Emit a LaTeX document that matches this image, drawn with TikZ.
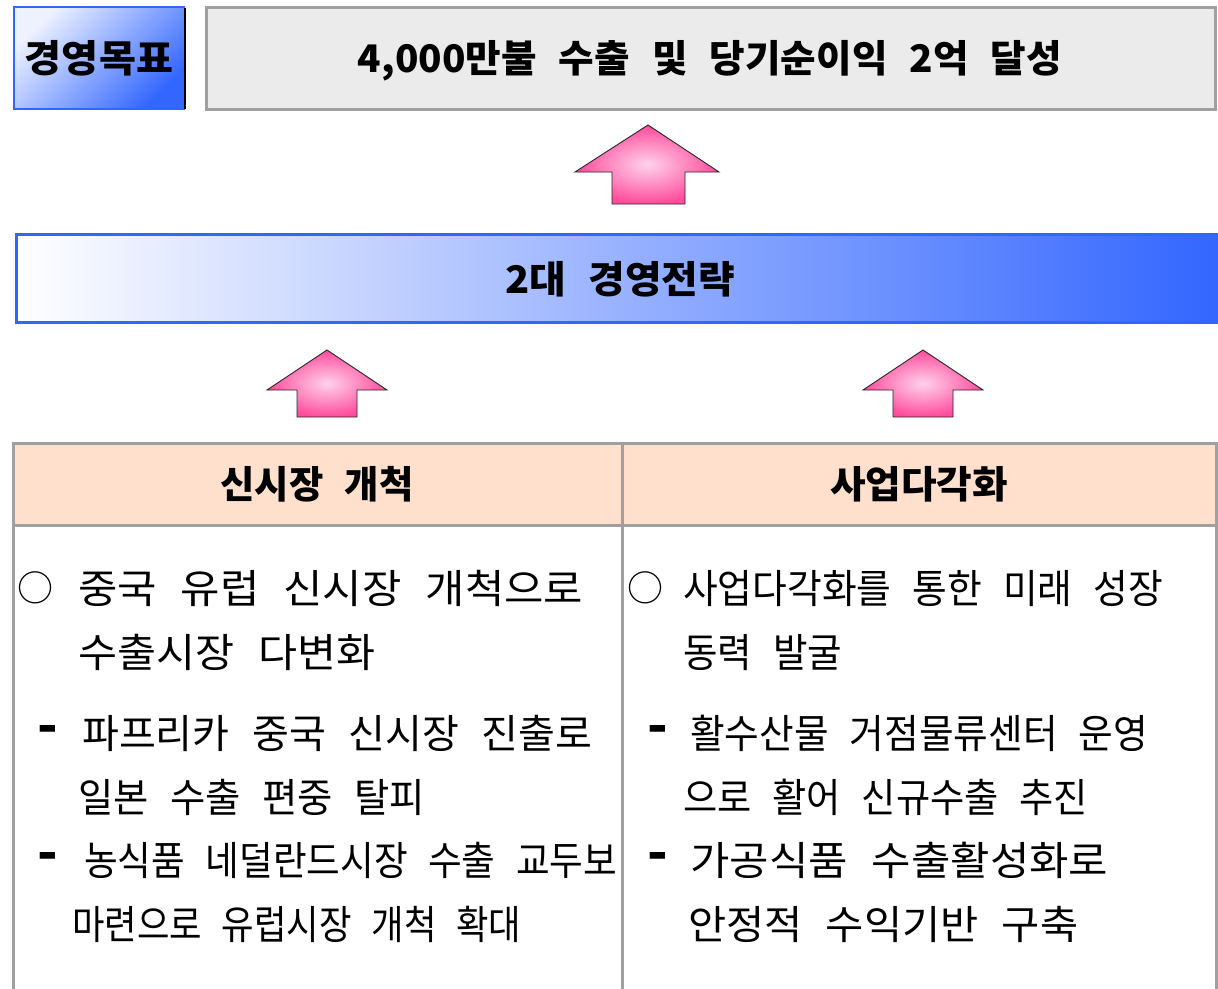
\documentclass[tikz,border=0pt]{standalone}
\usepackage{fontspec}
\usepackage{graphicx}
\newfontfamily\kr[WordSpace=2.5]{Noto Sans CJK KR}
\definecolor{bblue}{HTML}{3366FF}
\definecolor{bpale}{HTML}{EEF2FF}
\definecolor{gbox}{HTML}{EBEBEB}
\definecolor{gline}{HTML}{A0A0A0}
\definecolor{peach}{HTML}{FFE0CC}
\definecolor{pinkin}{HTML}{FFD2EC}
\definecolor{pinkout}{HTML}{FF4B9B}
\tikzset{
  uparr/.style={draw=black!85, line width=0.9pt, inner color=pinkin, outer color=pinkout},
  tline/.style={draw=gline, line width=3pt},
  body/.style={inner sep=0pt, anchor=base west, font=\kr\fontsize{40}{42}\selectfont},
  bul/.style={inner sep=0pt, anchor=center, font=\kr\fontsize{36}{40}\selectfont},
  dsh/.style={inner sep=0pt, anchor=center, font=\kr\bfseries\fontsize{54}{54}\selectfont},
  head/.style={inner sep=0pt, anchor=base, font=\kr\bfseries\fontsize{38}{40}\selectfont},
  big/.style={inner sep=0pt, anchor=base, font=\kr\bfseries\fontsize{38}{40}\selectfont},
}
\begin{document}
\begin{tikzpicture}[x=1pt,y=-1pt]
\useasboundingbox (0,0) rectangle (1218,988);
% goal label box
\shade[top color=bpale, bottom color=bblue, shading angle=45] (14,7) rectangle (185,109);
\draw[bblue, line width=2.5pt] (185,7) -- (14,7) -- (14,109) -- (185,109);
\draw[black, line width=2pt] (185,8) -- (185,109);
\node[big] (goallabel) at (99,72) {\resizebox{148pt}{\height}{경영목표}};
% goal text box
\draw[tline, fill=gbox] (206,7) rectangle (1215,109);
\node[big] (goal) at (710,72) {\resizebox{704pt}{\height}{4,000만불 수출 및 당기순이익 2억 달성}};
% big arrow
\path[uparr] (648,125) -- (575,172) -- (612,172) -- (612,204) -- (685,204) -- (685,172) -- (719,172) -- cycle;
% strategy bar
\shade[left color=white, right color=bblue] (16,234) rectangle (1218,322);
\draw[bblue, line width=3pt] (1219,234) -- (16,234) -- (16,322) -- (1219,322);
\node[big] (strategy) at (620,293) {\resizebox{230pt}{\height}{2대 경영전략}};
% small arrows
\path[uparr] (327,350) -- (267,390) -- (297,390) -- (297,417) -- (357,417) -- (357,390) -- (387,390) -- cycle;
\path[uparr] (923,350) -- (863,390) -- (893,390) -- (893,417) -- (953,417) -- (953,390) -- (983,390) -- cycle;
% table
\fill[peach] (13,443) rectangle (1216,525);
\draw[tline] (13,989) -- (13,443) -- (1216,443) -- (1216,989);
\draw[tline] (13,525) -- (1216,525);
\draw[tline] (622,443) -- (622,989);
\node[head] (h1) at (317,498) {\resizebox{193pt}{\height}{신시장 개척}};
\node[head] (h2) at (919,498) {\resizebox{178pt}{\height}{사업다각화}};
% left column
\node[bul] (lb1) at (35,588) {○};
\node[body] (l1) at (78,603) {\resizebox{505pt}{\height}{중국 유럽 신시장 개척으로}};
\node[body] (l2) at (78,667) {\resizebox{297pt}{\height}{수출시장 다변화}};
\node[dsh] (ld1) at (48,735) {-};
\node[body] (l3) at (82,748) {\resizebox{510pt}{\height}{파프리카 중국 신시장 진출로}};
\node[body] (l4) at (78,812) {\resizebox{347pt}{\height}{일본 수출 편중 탈피}};
\node[dsh] (ld2) at (48,862) {-};
\node[body] (l5) at (84,875) {\resizebox{533pt}{\height}{농식품 네덜란드시장 수출 교두보}};
\node[body] (l6) at (72,939) {\resizebox{449pt}{\height}{마련으로 유럽시장 개척 확대}};
% right column
\node[bul] (rb1) at (645,588) {○};
\node[body] (r1) at (683,603) {\resizebox{480pt}{\height}{사업다각화를 통한 미래 성장}};
\node[body] (r2) at (683,667) {\resizebox{159pt}{\height}{동력 발굴}};
\node[dsh] (rd1) at (658,735) {-};
\node[body] (r3) at (690,748) {\resizebox{458pt}{\height}{활수산물 거점물류센터 운영}};
\node[body] (r4) at (683,812) {\resizebox{405pt}{\height}{으로 활어 신규수출 추진}};
\node[dsh] (rd2) at (658,862) {-};
\node[body] (r5) at (690,875) {\resizebox{418pt}{\height}{가공식품 수출활성화로}};
\node[body] (r6) at (688,939) {\resizebox{390pt}{\height}{안정적 수익기반 구축}};
\end{tikzpicture}
\end{document}
